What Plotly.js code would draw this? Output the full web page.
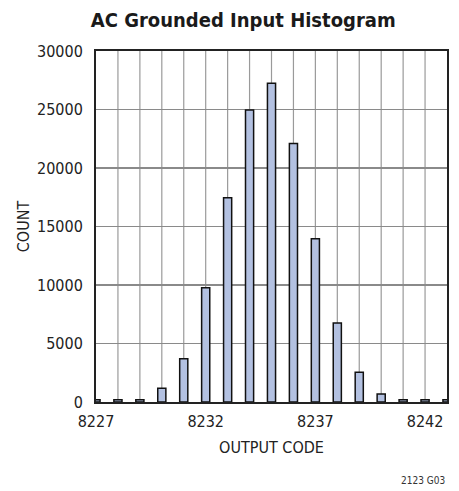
<!DOCTYPE html>
<html>
<head>
<meta charset="utf-8">
<script src="https://cdn.plot.ly/plotly-3.0.1.min.js"></script>
<style>
html,body{margin:0;padding:0;background:#fff;}
#chart{width:459px;height:491px;}
</style>
</head>
<body>
<div id="chart"></div>
<script>
// Data
const outputCodes = [8227,8228,8229,8230,8231,8232,8233,8234,8235,8236,8237,8238,8239,8240,8241,8242,8243];
const counts      = [200,200,200,1170,3700,9770,17450,24950,27250,22100,13950,6750,2550,680,200,200,200];
const tickValues  = [8227,8232,8237,8242];
const tickLabels  = ["8227","8232","8237","8242"];
const gridCodes   = [8228,8229,8230,8231,8232,8233,8234,8235,8236,8237,8238,8239,8240,8241,8242];

const FONT = '"Liberation Sans Narrow", "DejaVu Sans Condensed", "Roboto Condensed", Arial, sans-serif';

const trace = {
  type: 'bar',
  x: outputCodes,
  y: counts,
  width: 0.37,
  marker: {color: '#b3c1e1', line: {color: '#111', width: 1.5}},
  hoverinfo: 'x+y'
};

// vertical grid lines at each code via shapes built from gridCodes
const shapes = gridCodes.map(c => ({
  type: 'line', xref: 'x', yref: 'paper', x0: c, x1: c, y0: 0, y1: 1,
  line: {color: '#9a9a9a', width: 1.2}, layer: 'below'
}));

const layout = {
  width: 459, height: 491,
  margin: {l: 96, r: 12, t: 51, b: 89},
  paper_bgcolor: '#fff', plot_bgcolor: '#fff',
  showlegend: false,
  bargap: 0,
  title: {text: '<b>AC Grounded Input Histogram</b>', x: 0.53, xanchor: 'center', y: 0.96, yanchor: 'middle',
          font: {family: FONT, size: 20, color: '#1a1a1a'}},
  xaxis: {
    range: [8227, 8243],
    tickmode: 'array', tickvals: tickValues, ticktext: tickLabels,
    showgrid: false, zeroline: false,
    showline: true, mirror: true, linecolor: '#222', linewidth: 2,
    ticks: '', ticklabelstandoff: 4, tickfont: {family: FONT, size: 16, color: '#222'},
    title: {text: 'OUTPUT CODE', font: {family: FONT, size: 16, color: '#222'}, standoff: 12}
  },
  yaxis: {
    range: [0, 30000], dtick: 5000, tickformat: 'd',
    showgrid: true, gridcolor: '#8a8a8a', gridwidth: 1.2,
    zeroline: false,
    showline: true, mirror: true, linecolor: '#222', linewidth: 2,
    ticks: '', ticklabelstandoff: 8, tickfont: {family: FONT, size: 16, color: '#222'},
    title: {text: 'COUNT', font: {family: FONT, size: 16, color: '#222'}, standoff: 3}
  },
  shapes: shapes,
  annotations: [{
    text: '2123 G03', xref: 'paper', yref: 'paper', x: 1.0, y: -0.225,
    xanchor: 'right', yanchor: 'middle', showarrow: false,
    font: {family: FONT, size: 10, color: '#333'}
  }]
};

Plotly.newPlot('chart', [trace], layout, {displayModeBar: false, staticPlot: true});
</script>
</body>
</html>
